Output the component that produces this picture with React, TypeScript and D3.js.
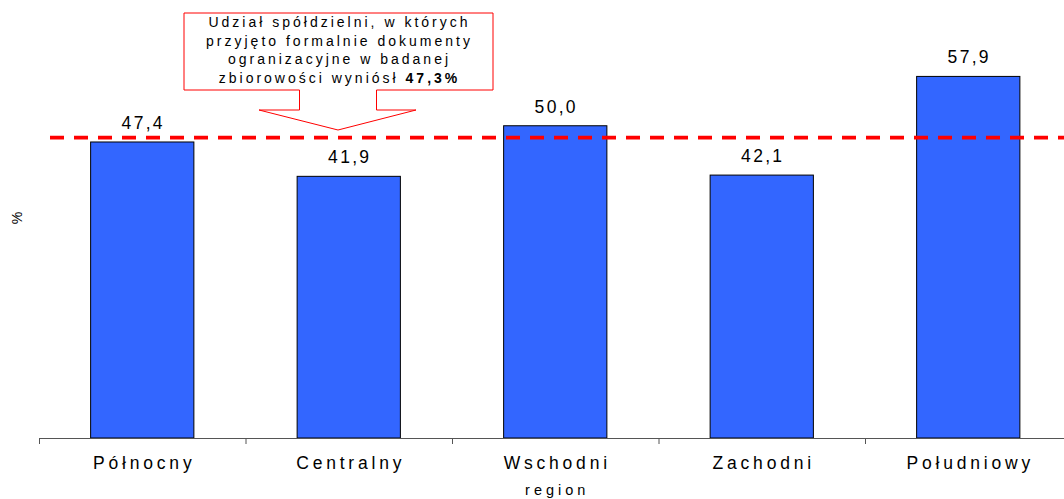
import React from "react";
import * as d3 from "d3";

const categories = ["Północny", "Centralny", "Wschodni", "Zachodni", "Południowy"];
const values = [47.4, 41.9, 50.0, 42.1, 57.9];
const averageValue = 47.3;
const calloutLines = [
  "Udział spółdzielni, w których",
  "przyjęto formalnie dokumenty",
  "ogranizacyjne w badanej",
];
const calloutLastPlain = "zbiorowości wyniósł ";
const calloutLastBold = "47,3%";
const xTitle = "region";
const yTitle = "%";

const W = 1064;
const H = 499;
const FONT = "'Liberation Sans', Arial, sans-serif";

export default function App() {
  const baseY = 438;
  const x = d3
    .scaleBand<string>()
    .domain(categories)
    .range([39, 39 + 206.5 * 5])
    .paddingInner(0.5)
    .paddingOuter(0.25);
  const y = d3.scaleLinear().domain([0, 60]).range([baseY, baseY - 6.245 * 60]);
  const fmt = (v: number) => v.toFixed(1).replace(".", ",");
  const ticks = d3.range(categories.length + 1).map((i) => 39 + x.step() * i);
  const lineY = y(averageValue) - 5;
  const plotCenter = (39 + 39 + x.step() * categories.length) / 2;

  // callout geometry
  const cx = 338;
  const rL = 184, rR = 493, rT = 13, rB = 90;
  const aL = 299.5, aR = 376.5, aB = 110, hL = 259, hR = 416, tipY = 130;
  const calloutPath = `M${rL},${rT} H${rR} V${rB} H${aR} V${aB} H${hR} L${cx},${tipY} L${hL},${aB} H${aL} V${rB} H${rL} Z`;

  return (
    <svg
      width={W}
      height={H}
      style={{ position: "absolute", left: 0, top: 0, background: "#fff" }}
      fontFamily={FONT}
    >
      {categories.map((c, i) => (
        <g key={c}>
          <rect
            x={x(c)!}
            y={y(values[i])}
            width={x.bandwidth()}
            height={baseY - y(values[i])}
            fill="#3366ff"
            stroke="#000"
            strokeWidth={1}
          />
          <text
            x={x(c)! + x.bandwidth() / 2 + 1}
            y={y(values[i]) - 13}
            textAnchor="middle"
            fontSize={17.5}
            letterSpacing={2.3}
            fill="#000"
          >
            {fmt(values[i])}
          </text>
          <text
            x={x(c)! + x.bandwidth() / 2 + 2}
            y={469}
            textAnchor="middle"
            fontSize={17.5}
            letterSpacing={3.8}
            fill="#000"
          >
            {c}
          </text>
        </g>
      ))}
      <line x1={39} x2={W} y1={baseY + 0.5} y2={baseY + 0.5} stroke="#555" strokeWidth={1} />
      {ticks.map((t, i) => (
        <line key={i} x1={t + 0.5} x2={t + 0.5} y1={baseY} y2={baseY + 6} stroke="#555" strokeWidth={1} />
      ))}
      <line
        x1={50}
        x2={W}
        y1={lineY}
        y2={lineY}
        stroke="#ff0000"
        strokeWidth={3.7}
        strokeDasharray="14 10"
      />
      <text x={plotCenter + 2} y={495} textAnchor="middle" fontSize={14.5} letterSpacing={4} fill="#000">
        {xTitle}
      </text>
      <text
        transform={`translate(22,218) rotate(-90)`}
        textAnchor="middle"
        fontSize={14}
        fill="#000"
      >
        {yTitle}
      </text>
      <path d={calloutPath} fill="#fff" stroke="#ff0000" strokeWidth={1} />
      {calloutLines.map((l, i) => (
        <text
          key={i}
          x={cx + 1.5}
          y={27 + i * 18.7}
          textAnchor="middle"
          fontSize={14}
          letterSpacing={3}
          fill="#000"
        >
          {l}
        </text>
      ))}
      <text x={cx + 1.5} y={27 + 3 * 18.7} textAnchor="middle" fontSize={14} letterSpacing={3} fill="#000">
        {calloutLastPlain}
        <tspan fontWeight="bold">{calloutLastBold}</tspan>
      </text>
    </svg>
  );
}
